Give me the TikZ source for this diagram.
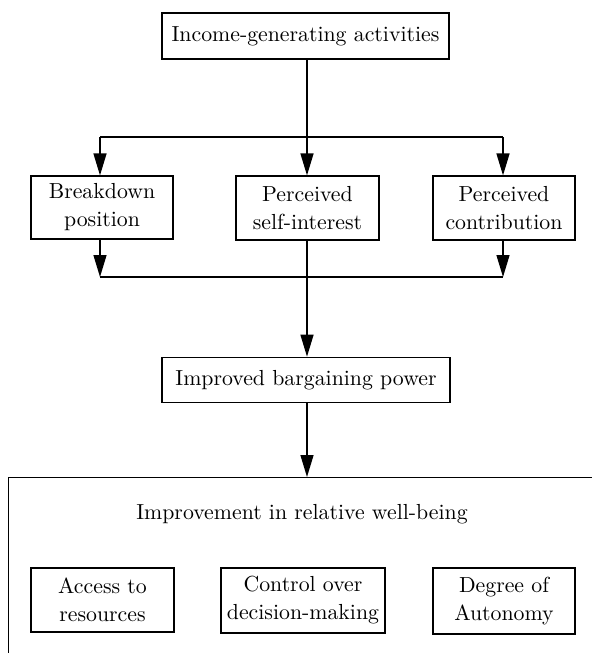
\documentclass[tikz,border=0pt]{standalone}
\usetikzlibrary{arrows.meta}
\begin{document}
\begin{tikzpicture}[x=0.5pt,y=-0.5pt,
  txt/.style={font=\fontsize{10.9}{14}\selectfont},
  box/.style={txt, draw, line width=0.6pt, inner sep=0pt, align=center},
  conn/.style={line width=0.65pt},
  arr/.style={conn, -{Triangle[length=11pt,width=6.5pt]}}
]
\useasboundingbox (0,0) rectangle (592,653);

% top
\node[box, minimum width=143.5pt, minimum height=23pt] (inc) at (305.5,36) {Income-generating activities};

% middle row
\node[box, minimum width=71pt, minimum height=31.5pt] (bd) at (102,207.5) {Breakdown\\position};
\node[box, minimum width=71.5pt, minimum height=32pt] (si) at (307.5,208) {Perceived\\self-interest};
\node[box, minimum width=71pt, minimum height=32pt] (pc) at (504,208) {Perceived\\contribution};

% bargaining power
\node[box, minimum width=144pt, minimum height=22.75pt] (ibp) at (306,380) {Improved bargaining power};

% well-being frame (runs off the page to the right and bottom)
\begin{scope}
  \clip (0,0) rectangle (592,653);
  \node[draw, line width=0.6pt, inner sep=0pt, anchor=north west,
        minimum width=300pt, minimum height=110pt] (well) at (8,477) {};
\end{scope}
\node[txt, anchor=base] (wt) at (302,519) {Improvement in relative well-being};

\node[box, minimum width=71.5pt, minimum height=32pt] (acc) at (102.5,600) {Access to\\resources};
\node[box, minimum width=82pt, minimum height=32.5pt] (ctl) at (303,600.5) {Control over\\decision-making};
\node[box, minimum width=71pt, minimum height=33pt] (deg) at (504,601) {Degree of\\Autonomy};

% connectors
\coordinate (split) at (307,137);
\coordinate (jl) at (100,137);
\coordinate (jr) at (503,137);
\coordinate (kl) at (100,277);
\coordinate (kr) at (503,277);

\draw[conn] (inc.south -| split) -- (split);
\draw[conn] (jl) -- (jr);
\draw[arr] (jl) -- (jl |- bd.north);
\draw[arr] (split) -- (split |- si.north);
\draw[arr] (jr) -- (jr |- pc.north);

\draw[arr] (kl |- bd.south) -- (kl);
\draw[arr] (kr |- pc.south) -- (kr);
\draw[conn] (kl) -- (kr);
\draw[arr] (split |- si.south) -- (split |- ibp.north);
\draw[arr] (split |- ibp.south) -- (split |- well.north);
\end{tikzpicture}
\end{document}
